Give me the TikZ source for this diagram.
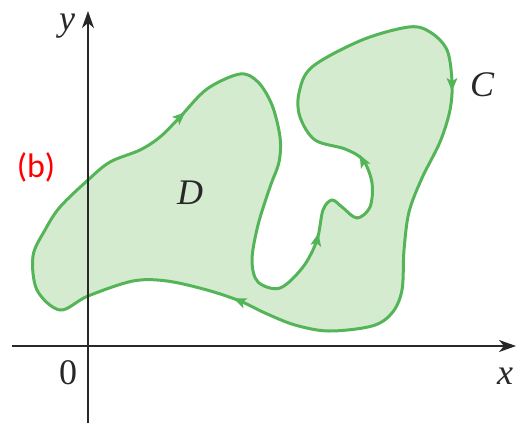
\documentclass[tikz,border=0pt]{standalone}
\usepackage{fontspec}
\setmainfont{Liberation Serif}
\newfontfamily\tagfont{Carlito}
\usepackage{xcolor}
\usetikzlibrary{arrows.meta}
\definecolor{curvegreen}{RGB}{84,180,88}
\definecolor{regiongreen}{RGB}{213,235,208}
\definecolor{axisgray}{RGB}{40,40,40}
\tikzset{
  region/.style={draw=curvegreen,fill=regiongreen,line width=3pt},
  axisline/.style={-{Stealth[length=17pt,width=12pt,inset=5pt]},draw=axisgray,line width=1.8pt},
  tiplabel/.style={font=\fontsize{36}{40}\selectfont\itshape,text=axisgray,inner sep=0pt},
  tipmark/.style={fill=curvegreen}
}

\begin{document}
\begin{tikzpicture}[x=1pt,y=-1pt]
  \useasboundingbox (0,0) rectangle (524,426);

  % region D bounded by C
  \draw[region] plot[smooth cycle,tension=0.55] coordinates {
    (60,207) (88,180) (110,162) (140,150) (160,137) (180,117) (207,89)
    (240,74) (258,82) (272,105) (280,137) (279,162) (270,187) (258,225)
    (252,260) (258,282) (280,288) (303,267) (317,240) (323,210) (332,200)
    (342,207) (357,218) (370,207) (372,183) (363,160) (345,149) (315,140)
    (300,117) (299,93) (312,67) (362,40) (409,27) (430,32) (447,50)
    (452,82) (450,110) (440,142) (422,178) (409,212) (404,250) (402,290)
    (392,313) (372,326) (329,331) (295,325) (265,313) (240,301) (207,290)
    (167,281) (133,281) (88,296) (60,310) (37,290) (33,256) (45,230)};

  % orientation marks
  \foreach \px/\py/\ang in {180/117/-42, 452/84/90, 363/161/-118,
                            317/240/-78, 240/301/203}
    \fill[tipmark,shift={(\px,\py)},rotate=-\ang]
      (7,0) -- (-6,5.5) -- (-3,0) -- (-6,-5.5) -- cycle;

  % axes
  \coordinate (xl) at (12,346);
  \coordinate (xr) at (516,346);
  \coordinate (yb) at (88,423);
  \coordinate (yt) at (88,11);
  \draw[axisline] (xl) -- (xr);
  \draw[axisline] (yb) -- (yt);

  \node[tiplabel] (ylab) at (67,26) {y};
  \node[tiplabel] (xlab) at (505,376) {x};
  \node[tiplabel,font=\fontsize{36}{40}\selectfont] (orig) at (68,373) {0};
  \node[tiplabel] (dlab) at (190,193) {D};
  \node[tiplabel] (clab) at (482,85) {C};
  \node[inner sep=0pt,text=red,font=\fontsize{34}{38}\selectfont\tagfont] (tag) at (36,167) {(b)};
\end{tikzpicture}
\end{document}
